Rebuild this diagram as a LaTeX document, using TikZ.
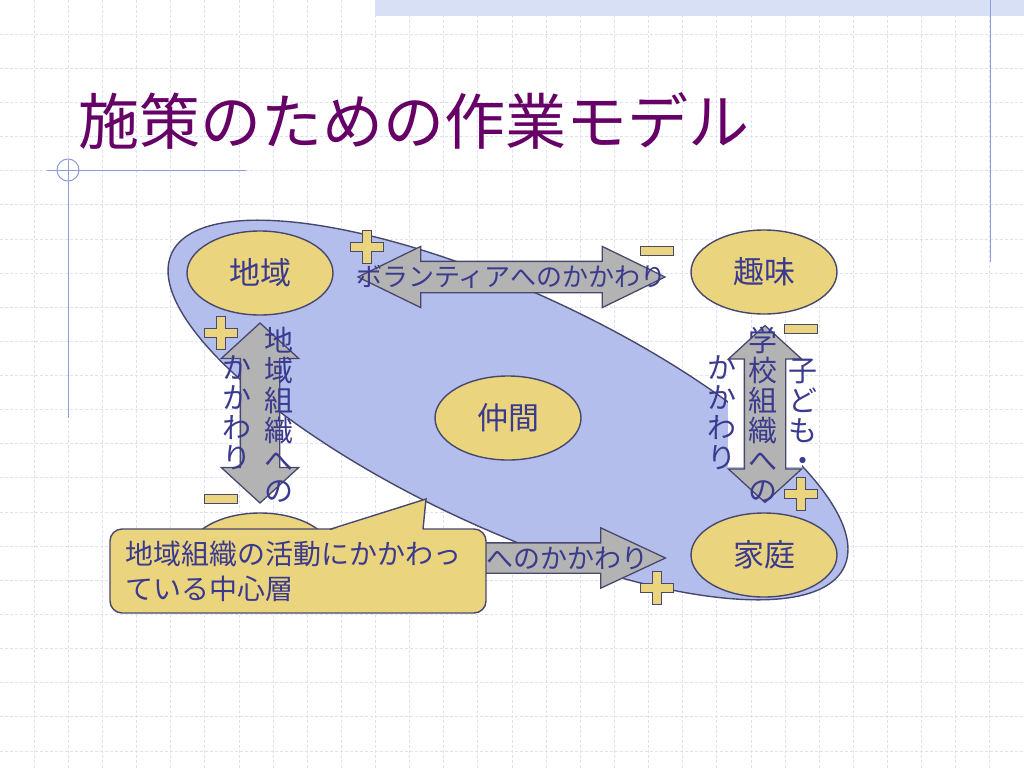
\documentclass[tikz,border=0pt]{standalone}
\usepackage{fontspec}
\setmainfont{Noto Sans CJK JP}
\usepackage{tikz}
\usetikzlibrary{arrows,positioning,shapes.geometric,shapes.arrows}
\definecolor{tittelfarge}{HTML}{660066}
\definecolor{tekstblaa}{HTML}{3A3A8E}
\definecolor{kant}{HTML}{48486E}
\definecolor{gul}{HTML}{EBD47E}
\definecolor{lysblaa}{HTML}{B4BEEC}
\definecolor{graa}{HTML}{B3B3B3}
\definecolor{rutenett}{HTML}{DCE1F5}
\definecolor{banner}{HTML}{D8E0F6}
\definecolor{pynt}{HTML}{8C9CDC}
\tikzset{
  %Define style for the small ovals
  oval/.style={
    ellipse,
    draw=kant, line width=1.4pt,
    fill=gul,
    minimum width=146pt,
    minimum height=84pt,
    text=tekstblaa,
    font=\fontsize{31}{32}\selectfont},
  %Define style for the big group oval
  gruppe/.style={
    ellipse,
    draw=kant, line width=1.4pt,
    fill=lysblaa,
    minimum width=742pt,
    minimum height=236pt},
  % Define arrow styles
  dblpil/.style={
    double arrow,
    draw=kant, line width=1.3pt,
    fill=graa,
    inner xsep=0pt},
  enkpil/.style={
    single arrow,
    draw=kant, line width=1.3pt,
    fill=graa,
    inner xsep=0pt},
  %Define style for texts on the arrows
  htekst/.style={
    text=tekstblaa, inner sep=0pt,
    font=\fontsize{26}{30}\selectfont},
  vtekst/.style={
    text=tekstblaa, inner sep=0pt, align=center,
    font=\fontsize{29}{30}\selectfont},
  % plus and minus marks
  tegn/.style={draw=kant, fill=gul, line width=1.2pt},
  plusmark/.pic={
    \path[tegn] (-16.5,-4.5) -- (-4.5,-4.5) -- (-4.5,-16.5) -- (4.5,-16.5)
      -- (4.5,-4.5) -- (16.5,-4.5) -- (16.5,4.5) -- (4.5,4.5) -- (4.5,16.5)
      -- (-4.5,16.5) -- (-4.5,4.5) -- (-16.5,4.5) -- cycle;},
  minusmark/.pic={
    \path[tegn] (-16.5,-4.5) rectangle (16.5,4.5);},
  %Define style for the callout
  boble/.style={
    rectangle,
    rounded corners=12pt,
    draw=kant, line width=1.4pt,
    fill=gul,
    minimum height=84pt,
    text width=346pt,
    inner xsep=15pt,
    align=left,
    text=tekstblaa,
    font=\fontsize{28}{35}\selectfont}
}

\begin{document}
\begin{tikzpicture}[x=1pt,y=-1pt,
    gridlinje/.style={draw=rutenett, line width=0.8pt, dash pattern=on 3pt off 2pt},
    pyntlinje/.style={draw=pynt, line width=1pt}]
  \useasboundingbox (0,0) rectangle (1024,768);
  \fill[white] (0,0) rectangle (1024,768);
  % background grid
  \foreach \gx in {1,...,29}
    \draw[gridlinje] (\gx*34.133,0) -- (\gx*34.133,768);
  \foreach \gy in {1,...,22}
    \draw[gridlinje] (0,\gy*34.133) -- (1024,\gy*34.133);
  \fill[banner] (375,0) rectangle (1024,16);
  \draw[pyntlinje] (990,0) -- (990,262);
  \draw[pyntlinje] (47,170) -- (246,170);
  \draw[pyntlinje] (68,160) -- (68,418);
  \draw[pyntlinje] (68,170) circle (11);

  \node[anchor=west, text=tittelfarge, inner sep=0pt,
    font=\fontsize{61}{61}\selectfont] (tittel) at (78,121) {施策のための作業モデル};

  \node[gruppe, rotate=-25] (gruppe) at (508,410) {};

  \node[oval] (omraade) at (260,273) {地域};
  \node[oval] (hobby) at (764,272) {趣味};
  \node[oval] (venner) at (508,418) {仲間};
  \node[oval] (hjem) at (764,555) {家庭};
  \node[oval] (skjult) at (260,555) {};

  % arrows
  \fill[white] (728,360) rectangle (802,467);
  \node[dblpil, minimum height=307pt, inner ysep=15pt,
    double arrow head extend=15pt, double arrow tip angle=52] (frivillig) at (511.5,277) {};
  \node[dblpil, rotate=90, minimum height=180pt, inner ysep=19pt,
    double arrow head extend=19pt, double arrow tip angle=95] (lokal) at (260,413) {};
  \node[dblpil, rotate=90, minimum height=177pt, inner ysep=20pt,
    double arrow head extend=16pt, double arrow tip angle=95] (skole) at (765,414) {};
  \node[enkpil, anchor=tip, minimum height=267pt, inner ysep=14.5pt,
    single arrow head extend=15pt, single arrow tip angle=50] (nedre) at (667,558) {};

  \node[htekst] (frivtekst) at (frivillig) {ボランティアへのかかわり};
  \node[htekst, anchor=west, font=\fontsize{27}{30}\selectfont] (nedtekst) at (486,558) {へのかかわり};
  \node[vtekst] (lokal1) at (279,415) {地\\域\\組\\織\\へ\\の};
  \node[vtekst] (lokal2) at (237,413) {か\\か\\わ\\り};
  \node[vtekst] (skole1) at (803,415) {子\\ど\\も\\・};
  \node[vtekst] (skole2) at (763,415) {学\\校\\組\\織\\へ\\の};
  \node[vtekst] (skole3) at (722,413) {か\\か\\わ\\り};

  % plus and minus
  \pic at (367,247) {plusmark};
  \pic at (657,251) {minusmark};
  \pic at (221,333) {plusmark};
  \pic at (221,499) {minusmark};
  \pic at (801,329) {minusmark};
  \pic at (801,494) {plusmark};
  \pic at (657,588) {plusmark};

  % callout
  \node[boble] (kjerne) at (298,571) {地域組織の活動にかかわっ\\ている中心層};
  \fill[gul] (330,530.5) -- (426,499) -- (423,530.5) -- cycle;
  \draw[kant, line width=1.4pt, line join=miter] (330,529.3) -- (426,499) -- (423,529.3);
\end{tikzpicture}
\end{document}
